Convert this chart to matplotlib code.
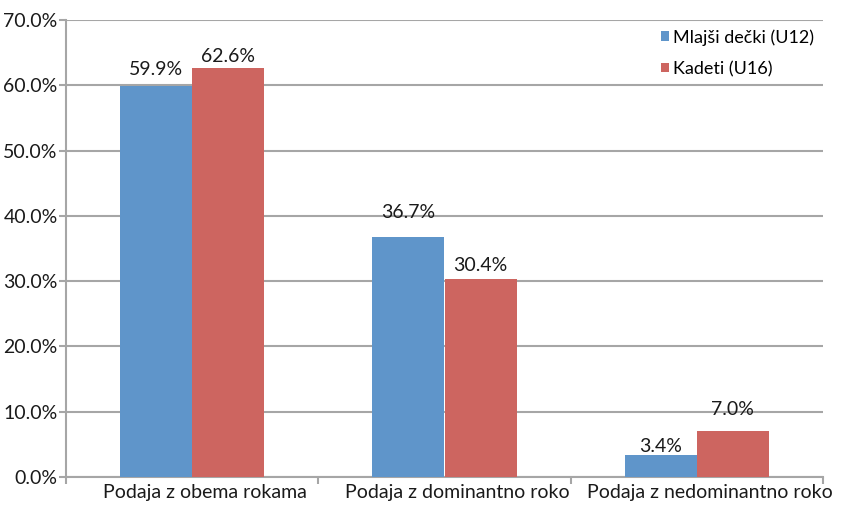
import numpy as np
import matplotlib
matplotlib.use("Agg")
import matplotlib.pyplot as plt
import matplotlib.transforms as mtransforms

categories = ["Podaja z obema rokama", "Podaja z dominantno roko", "Podaja z nedominantno roko"]
series_names = ["Mlajši dečki (U12)", "Kadeti (U16)"]
u12_values = [59.9, 36.7, 3.4]
u16_values = [62.6, 30.4, 7.0]
y_ticks = [0, 10, 20, 30, 40, 50, 60, 70]

# label offsets above bar top, in pixels (label placement is uneven in the original)
u12_label_gap = [8, 16, 0]
u16_label_gap = [3, 5, 13]

colors = ["#5F95CA", "#CD6560"]
grid_color = "#A6A6A6"
text_color = "#1a1a1a"

plt.rcParams["font.family"] = ["Lato", "DejaVu Sans"]

fig = plt.figure(figsize=(8.42, 5.05), dpi=100)
ax = fig.add_axes([66 / 842, 28 / 505, (823 - 66) / 842, (477 - 20) / 505])

x = np.arange(len(categories))
w = 0.286
bars1 = ax.bar(x - w / 2, u12_values, w, color=colors[0], label=series_names[0], zorder=3)
bars2 = ax.bar(x + w / 2, u16_values, w, color=colors[1], label=series_names[1], zorder=3)

for bars, vals, gaps in [(bars1, u12_values, u12_label_gap), (bars2, u16_values, u16_label_gap)]:
    for b, v, g in zip(bars, vals, gaps):
        ax.annotate(f"{v:.1f}%", (b.get_x() + b.get_width() / 2, v),
                    xytext=(0, g * 0.72), textcoords="offset points",
                    ha="center", va="bottom", fontsize=14, color=text_color)

ax.set_xlim(-0.5, len(categories) - 0.5)
ax.set_ylim(0, 70)
ax.set_yticks(y_ticks)
ax.set_yticklabels([f"{t:.1f}%" for t in y_ticks])
ax.yaxis.grid(True, color=grid_color, linewidth=1.5, zorder=0)

ax.set_xticks(x)
ax.set_xticklabels(categories)
ax.set_xticks(np.arange(len(categories) + 1) - 0.5, minor=True)
ax.tick_params(axis="x", which="major", length=0, pad=5, labelsize=14, labelcolor=text_color)
ax.tick_params(axis="x", which="minor", length=5, width=1.5, color=grid_color)
ax.tick_params(axis="y", length=5, width=1.5, color=grid_color, labelsize=14,
               labelcolor=text_color, pad=1)

# category labels sit a bit right of the category centre in the original
shift = mtransforms.ScaledTranslation(13 / 100, 0, fig.dpi_scale_trans)
for lbl in ax.get_xticklabels():
    lbl.set_transform(lbl.get_transform() + shift)

for s in ["top", "right"]:
    ax.spines[s].set_visible(False)
for s in ["left", "bottom"]:
    ax.spines[s].set_color(grid_color)
    ax.spines[s].set_linewidth(1.5)

ax.legend(loc="upper right", bbox_to_anchor=(1.005, 1.008), frameon=False, fontsize=13,
          handlelength=0.45, handleheight=0.45, handletextpad=0.25, labelspacing=0.85,
          borderaxespad=0.3)

fig.savefig("out.png", dpi=100)
